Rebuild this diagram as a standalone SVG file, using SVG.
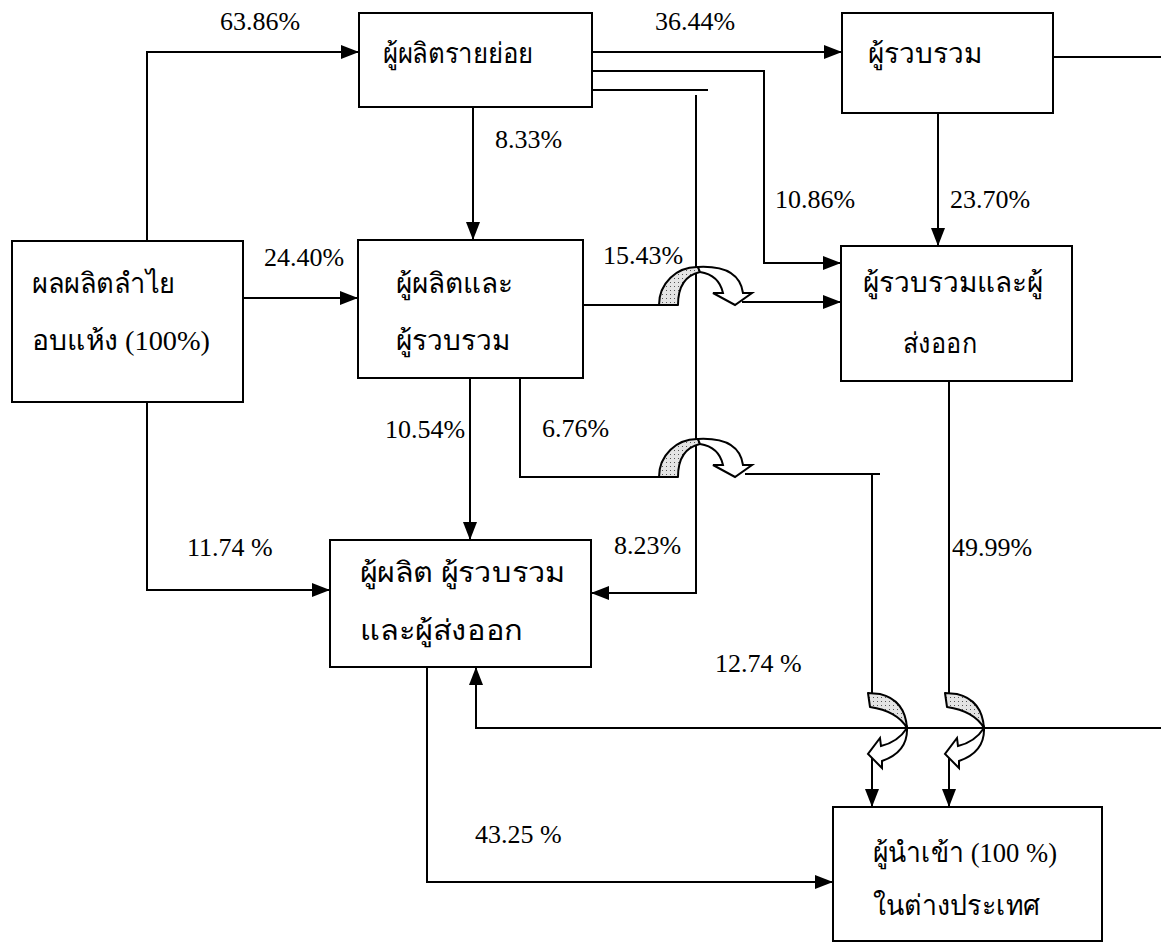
<svg xmlns="http://www.w3.org/2000/svg" width="1161" height="943" viewBox="0 0 1161 943">
<style>
  .box { fill: #fff; stroke: #000; stroke-width: 2; }
  .ln { fill: none; stroke: #000; stroke-width: 2; }
  .lbl { font-family: 'Liberation Serif', 'DejaVu Serif', serif; font-size: 26px; fill: #000; }
  .th { font-family: 'Liberation Serif', 'DejaVu Serif', serif; font-size: 28px; fill: #000; }
  .band { fill: url(#dots); stroke: #000; stroke-width: 2; stroke-linejoin: round; }
  .carrow { fill: #fff; stroke: #000; stroke-width: 2; stroke-linejoin: miter; }
</style>
<defs>
  <marker id="ah" viewBox="0 0 18 14" refX="18" refY="7" markerWidth="18" markerHeight="14" markerUnits="userSpaceOnUse" orient="auto">
    <path d="M0,0 L18,7 L0,14 Z" fill="#000"/>
  </marker>
  <pattern id="dots" width="4" height="4" patternUnits="userSpaceOnUse">
    <rect width="4" height="4" fill="#e4e4e4"/>
    <rect x="1" y="1" width="1" height="1" fill="#555"/>
  </pattern>
  <!-- hop-over for a horizontal line crossing a vertical one (centre at crossing) -->
  <g id="hopH">
    <path class="band" d="M-38,0 A38,38 0 0 1 1,-38 L3,-33 Q-19,-28 -19,0 Z"/>
    <path class="carrow" d="M1,-38 Q42,-40 46,-12 L55,-12 L38,0 L16,-12 L26,-12 Q22,-30 3,-33 Z"/>
  </g>
  <!-- hop-over for a vertical line crossing a horizontal one -->
  <g id="hopV">
    <path class="band" d="M-4,-35 L8,-34 Q33,-28 35,0 Q25,-17 -2,-21 Z"/>
    <path class="carrow" d="M35,0 Q36,24 10,33 L10,40 L-4,26 L8,10 L9,18 Q26,14 35,0 Z"/>
  </g>
</defs>
<rect width="1161" height="943" fill="#fff"/>

<g id="connectors">
  <!-- 63.86% -->
  <polyline class="ln" points="147,241 147,52 359,52" marker-end="url(#ah)"/>
  <text class="lbl" x="220" y="30">63.86%</text>
  <!-- 24.40% -->
  <line class="ln" x1="243" y1="298" x2="358" y2="298" marker-end="url(#ah)"/>
  <text class="lbl" x="264" y="266">24.40%</text>
  <!-- 11.74 % -->
  <polyline class="ln" points="147,402 147,590 330,590" marker-end="url(#ah)"/>
  <text class="lbl" x="187" y="556">11.74 %</text>
  <!-- 8.33% -->
  <line class="ln" x1="473" y1="107" x2="473" y2="240" marker-end="url(#ah)"/>
  <text class="lbl" x="495" y="148">8.33%</text>
  <!-- 36.44% -->
  <line class="ln" x1="592" y1="52" x2="842" y2="52" marker-end="url(#ah)"/>
  <text class="lbl" x="655" y="30">36.44%</text>
  <!-- 10.86% -->
  <polyline class="ln" points="592,71 764,71 764,263 841,263" marker-end="url(#ah)"/>
  <text class="lbl" x="775" y="208">10.86%</text>
  <!-- 8.23% -->
  <line class="ln" x1="592" y1="90" x2="708" y2="90"/>
  <polyline class="ln" points="696,95 696,593 591,593" marker-end="url(#ah)"/>
  <text class="lbl" x="614" y="554">8.23%</text>
  <!-- 23.70% -->
  <line class="ln" x1="938" y1="113" x2="938" y2="246" marker-end="url(#ah)"/>
  <text class="lbl" x="950" y="208">23.70%</text>
  <!-- from collector to right edge -->
  <line class="ln" x1="1053" y1="57" x2="1161" y2="57"/>
  <!-- 12.74 % -->
  <polyline class="ln" points="1161,728 476,728 476,667" marker-end="url(#ah)"/>
  <text class="lbl" x="715" y="672">12.74 %</text>
  <!-- 15.43% -->
  <line class="ln" x1="583" y1="305" x2="659" y2="305"/>
  <line class="ln" x1="742" y1="302" x2="841" y2="302" marker-end="url(#ah)"/>
  <text class="lbl" x="603" y="264">15.43%</text>
  <!-- 10.54% -->
  <line class="ln" x1="470" y1="378" x2="470" y2="540" marker-end="url(#ah)"/>
  <text class="lbl" x="385" y="438">10.54%</text>
  <!-- 6.76% -->
  <polyline class="ln" points="520,378 520,477 659,477"/>
  <polyline class="ln" points="745,474 880,474"/>
  <line class="ln" x1="872" y1="474" x2="872" y2="693"/>
  <line class="ln" x1="872" y1="757" x2="872" y2="807" marker-end="url(#ah)"/>
  <text class="lbl" x="542" y="437">6.76%</text>
  <!-- 49.99% -->
  <line class="ln" x1="949" y1="381" x2="949" y2="693"/>
  <line class="ln" x1="949" y1="757" x2="949" y2="807" marker-end="url(#ah)"/>
  <text class="lbl" x="952" y="556">49.99%</text>
  <!-- 43.25 % -->
  <polyline class="ln" points="427,667 427,882 833,882" marker-end="url(#ah)"/>
  <text class="lbl" x="475" y="843">43.25 %</text>
  <!-- hop-over curved arrows -->
  <use href="#hopH" transform="translate(697,305)"/>
  <use href="#hopH" transform="translate(697,477)"/>
  <use href="#hopV" transform="translate(872,728)"/>
  <use href="#hopV" transform="translate(949,728)"/>
</g>

<g id="node-longan">
  <rect class="box" x="12" y="241" width="231" height="161"/>
  <text class="th" x="32" y="293" textLength="143" lengthAdjust="spacingAndGlyphs">ผลผลิตลำไย</text>
  <text class="th" x="32" y="350" textLength="178" lengthAdjust="spacingAndGlyphs">อบแห้ง (100%)</text>
</g>
<g id="node-smallproducer">
  <rect class="box" x="359" y="13" width="233" height="94"/>
  <text class="th" x="383" y="63" textLength="150" lengthAdjust="spacingAndGlyphs">ผู้ผลิตรายย่อย</text>
</g>
<g id="node-collector">
  <rect class="box" x="842" y="13" width="211" height="100"/>
  <text class="th" x="868" y="63">ผู้รวบรวม</text>
</g>
<g id="node-producer-collector">
  <rect class="box" x="358" y="240" width="225" height="138"/>
  <text class="th" x="396" y="293">ผู้ผลิตและ</text>
  <text class="th" x="396" y="350">ผู้รวบรวม</text>
</g>
<g id="node-collector-exporter">
  <rect class="box" x="841" y="246" width="231" height="135"/>
  <text class="th" x="863" y="292" textLength="180" lengthAdjust="spacingAndGlyphs">ผู้รวบรวมและผู้</text>
  <text class="th" x="903" y="353" textLength="74" lengthAdjust="spacingAndGlyphs">ส่งออก</text>
</g>
<g id="node-producer-collector-exporter">
  <rect class="box" x="330" y="540" width="261" height="127"/>
  <text class="th" x="360" y="582" textLength="205" lengthAdjust="spacingAndGlyphs">ผู้ผลิต ผู้รวบรวม</text>
  <text class="th" x="360" y="640" textLength="163" lengthAdjust="spacingAndGlyphs">และผู้ส่งออก</text>
</g>
<g id="node-importer">
  <rect class="box" x="833" y="807" width="269" height="134"/>
  <text class="th" x="873" y="862" textLength="184" lengthAdjust="spacingAndGlyphs">ผู้นำเข้า (100 %)</text>
  <text class="th" x="873" y="915" textLength="167" lengthAdjust="spacingAndGlyphs">ในต่างประเทศ</text>
</g>
</svg>
